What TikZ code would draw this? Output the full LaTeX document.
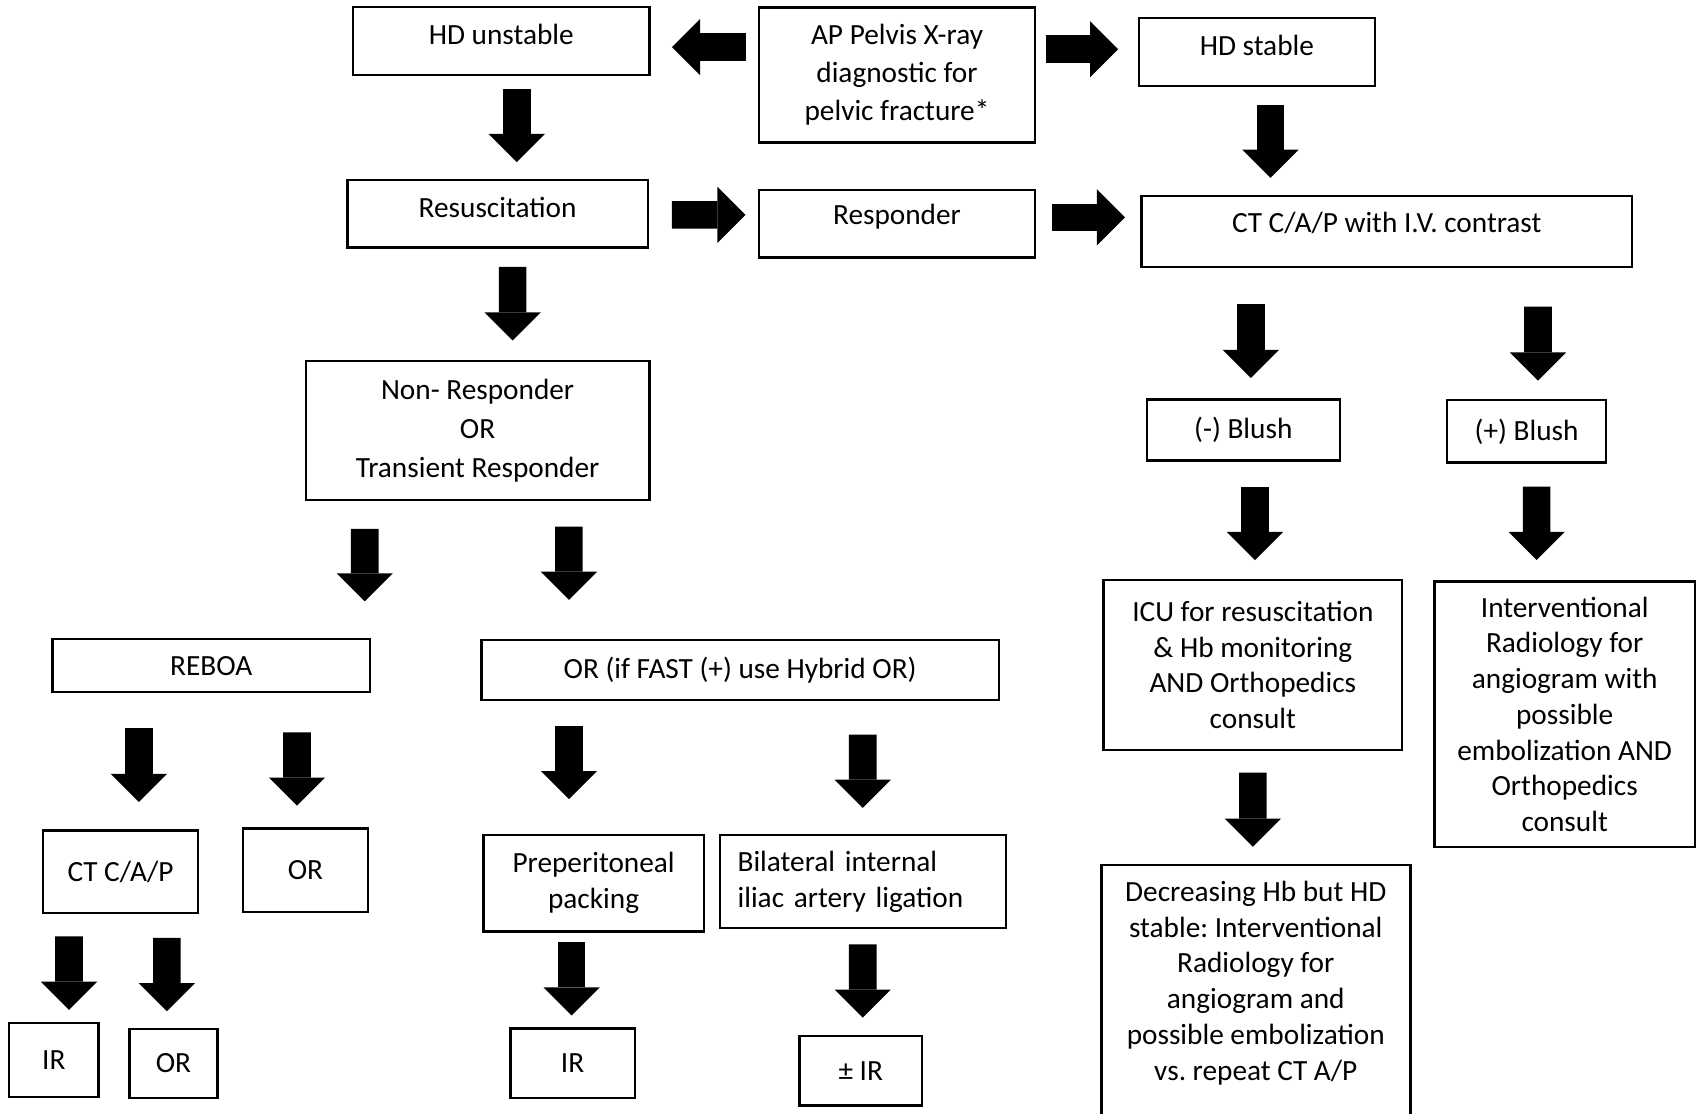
\documentclass[tikz,border=0pt]{standalone}
\usepackage{fontspec}
\setmainfont{Carlito}
\frenchspacing
\usetikzlibrary{arrows.meta,calc}

\begin{document}
\begin{tikzpicture}[x=0.01cm,y=-0.01cm,
    box/.style={draw,line width=0.65pt,align=center,inner sep=0pt,
      font=\fontsize{7.7pt}{9.39pt}\selectfont},
    hi/.style={text depth=0.12cm},
    blk/.style={line width=0.255cm,
      -{Triangle[width=0.52cm,length=0.26cm,line width=0pt]}}]

  \useasboundingbox (0,0) rectangle (1568,1029);

  % ---- Top row -----------------------------------------------
  \node[box,hi,minimum width=2.74cm,minimum height=0.63cm] (hdu) at (463.5,38) {HD unstable};
  \node[box,minimum width=2.554cm,minimum height=1.25cm,
    font=\fontsize{7.7pt}{9.96pt}\selectfont] (xray) at (829.3,69.3)
    {AP Pelvis X-ray\\diagnostic for\\pelvic fracture*};
  \node[box,hi,minimum width=2.18cm,minimum height=0.63cm] (hds) at (1162,48) {HD stable};

  % ---- Second row --------------------------------------------
  \node[box,hi,minimum width=2.776cm,minimum height=0.626cm] (resus) at (460,197.7) {Resuscitation};
  \node[box,text depth=0.17cm,minimum width=2.554cm,minimum height=0.625cm] (resp) at (829.3,207) {Responder};
  \node[box,text depth=0.17cm,minimum width=4.536cm,minimum height=0.658cm] (ctiv) at (1282.1,214.1)
    {CT C/A/P with I.V. contrast};

  % ---- Unstable branch ---------------------------------------
  \node[box,minimum width=3.172cm,minimum height=1.285cm,
    font=\fontsize{7.7pt}{10.24pt}\selectfont] (nonr) at (441.6,398)
    {Non- Responder\\OR\\Transient Responder};
  \node[box,minimum width=2.934cm,minimum height=0.488cm] (reboa) at (195.3,615.4) {REBOA};
  \node[box,minimum width=4.78cm,minimum height=0.555cm] (orfast) at (684.3,619.5)
    {OR (if FAST (+) use Hybrid OR)};
  \node[box,minimum width=1.43cm,minimum height=0.76cm] (ctcap) at (111.5,806) {CT C/A/P};
  \node[box,minimum width=1.153cm,minimum height=0.77cm] (or1) at (282.4,804.5) {OR};
  \node[box,minimum width=2.036cm,minimum height=0.89cm] (prep) at (548.8,816.5) {Preperitoneal\\packing};
  \node[box,align=left,text width=2.318cm,minimum width=2.643cm,minimum height=0.86cm] (bil) at (797.9,815)
    {Bilateral internal\\iliac artery ligation};
  \node[box,minimum width=0.825cm,minimum height=0.68cm] (ir2) at (49.8,980) {IR};
  \node[box,minimum width=0.813cm,minimum height=0.636cm] (or2) at (160.4,983.2) {OR};
  \node[box,minimum width=1.148cm,minimum height=0.64cm] (ir3) at (529.4,983) {IR};
  \node[box,minimum width=1.13cm,minimum height=0.64cm] (pmir) at (795.8,990) {± IR};

  % ---- Stable branch -----------------------------------------
  \node[box,minimum width=1.783cm,minimum height=0.564cm] (negb) at (1149.5,397.6) {(-) Blush};
  \node[box,minimum width=1.468cm,minimum height=0.575cm] (posb) at (1411.4,398.8) {(+) Blush};
  \node[box,minimum width=2.761cm,minimum height=1.573cm] (icu) at (1158.3,614.7)
    {ICU for resuscitation\\\& Hb monitoring\\AND Orthopedics\\consult};
  \node[box,minimum width=2.408cm,minimum height=2.456cm] (interv) at (1446.6,660.4)
    {Interventional\\Radiology for\\angiogram with\\possible\\embolization AND\\Orthopedics\\consult};
  \node[box,anchor=north,minimum width=2.855cm,minimum height=2.412cm] (decr) at (1161,798.8)
    {Decreasing Hb but HD\\stable: Interventional\\Radiology for\\angiogram and\\possible embolization\\vs. repeat CT A/P\\[-0.05cm]\mbox{}};

  % ---- Block arrows ------------------------------------------
  \draw[blk] ($(xray.west)+(-11.1,-25.7)$) -- ($(hdu.east)+(19.5,5.6)$);
  \draw[blk] ($(xray.east)+(8.5,-23.8)$) -- ($(hds.west)+(-18,-2.5)$);
  \draw[blk] ($(resus.east)+(21.2,1)$) -- ($(resp.west)+(-11.1,-8.3)$);
  \draw[blk] ($(resp.east)+(14.5,-6)$) -- ($(ctiv.west)+(-14,-13.1)$);

  \draw[blk] ($(hdu.south)+(14.3,11.7)$) -- ($(resus.north)+(17.8,-15.4)$);
  \draw[blk] ($(resus.south)+(14,16.6)$) -- ($(nonr.north)+(32.4,-17.8)$);
  \draw[blk] ($(nonr.south)+(-104.4,25.5)$) -- ($(reboa.north)+(141.9,-33.8)$);
  \draw[blk] ($(nonr.south)+(84.4,23.4)$) -- ($(orfast.north)+(-158.3,-36)$);
  \draw[blk] ($(reboa.south)+(-66.9,32.2)$) -- ($(ctcap.north)+(16.9,-25.3)$);
  \draw[blk] ($(reboa.south)+(79.3,36.2)$) -- ($(or1.north)+(-7.8,-20)$);
  \draw[blk] ($(orfast.south)+(-158.3,22.8)$) -- ($(prep.north)+(-22.8,-32)$);
  \draw[blk] ($(orfast.south)+(113.3,30.8)$) -- ($(bil.north)+(-0.3,-24)$);
  \draw[blk] ($(ctcap.south)+(-47.7,20.5)$) -- ($(ir2.north)+(14,-11.3)$);
  \draw[blk] ($(ctcap.south)+(42.8,22)$) -- ($(or2.north)+(-6.1,-15.4)$);
  \draw[blk] ($(prep.south)+(-20.3,9)$) -- ($(ir3.north)+(-0.9,-11)$);
  \draw[blk] ($(bil.south)+(-0.3,14)$) -- ($(pmir.north)+(1.8,-16)$);

  \draw[blk] ($(hds.south)+(12.6,16)$) -- ($(ctiv.north)+(-107.5,-15.7)$);
  \draw[blk] ($(ctiv.south)+(-125.7,33)$) -- ($(negb.north)+(6.9,-18.8)$);
  \draw[blk] ($(ctiv.south)+(139.8,35.2)$) -- ($(posb.north)+(10.5,-17)$);
  \draw[blk] ($(negb.south)+(10.8,22.9)$) -- ($(icu.north)+(2,-17.1)$);
  \draw[blk] ($(posb.south)+(9.3,21.2)$) -- ($(interv.north)+(-25.9,-18.7)$);
  \draw[blk] ($(icu.south)+(0,19.8)$) -- ($(decr.north)+(-2.7,-15.9)$);

\end{tikzpicture}
\end{document}
